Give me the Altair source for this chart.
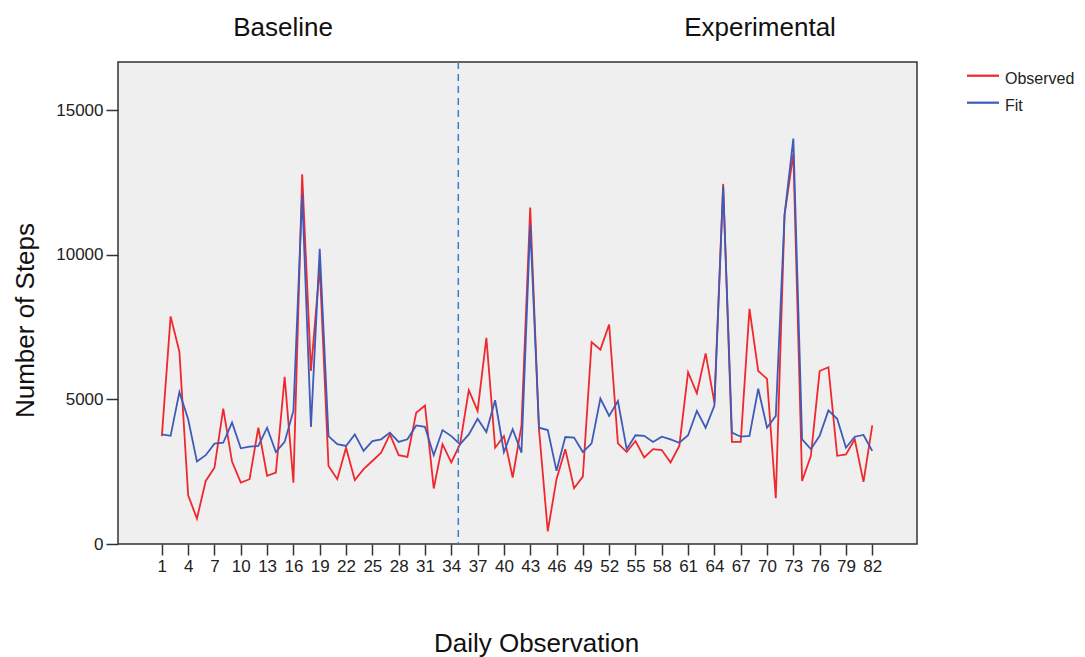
import altair as alt
import pandas as pd

# ---- data ----
observations = list(range(1, 83))

observed = [3730, 7870, 6650, 1680, 880, 2180, 2640, 4680, 2850, 2120,
            2240, 4020, 2360, 2470, 5780, 2120, 12780, 5980, 9600, 2700,
            2240, 3330, 2210, 2590, 2870, 3160, 3790, 3070, 3010, 4540,
            4790, 1920, 3450, 2820, 3450, 5320, 4600, 7130, 3330, 3730,
            2300, 4080, 11630, 3970, 440, 2240, 3280, 1930, 2330, 6980,
            6720, 7590, 3480, 3180, 3560, 2990, 3280, 3250, 2820, 3390,
            5940, 5210, 6590, 4890, 12450, 3530, 3530, 8130, 5980, 5710,
            1580, 11380, 13500, 2180, 3050, 5980, 6110, 3050, 3100, 3620,
            2150, 4100]

fit = [3790, 3740, 5250, 4310, 2850, 3070, 3470, 3500, 4200, 3310,
       3370, 3390, 4020, 3180, 3530, 4600, 12090, 4050, 10210, 3730,
       3450, 3390, 3790, 3220, 3560, 3620, 3850, 3530, 3620, 4100,
       4050, 3070, 3940, 3730, 3450, 3790, 4330, 3870, 4970, 3180,
       3970, 3160, 11030, 4020, 3940, 2530, 3700, 3680, 3180, 3480,
       5030, 4430, 4940, 3280, 3760, 3740, 3530, 3710, 3620, 3500,
       3760, 4600, 4020, 4790, 12360, 3850, 3710, 3740, 5370, 4020,
       4430, 11380, 14020, 3620, 3280, 3740, 4620, 4330, 3330, 3710,
       3770, 3220]

x_ticks = [1, 4, 7, 10, 13, 16, 19, 22, 25, 28, 31, 34, 37, 40,
           43, 46, 49, 52, 55, 58, 61, 64, 67, 70, 73, 76, 79, 82]
y_ticks = [0, 5000, 10000, 15000]

phase_labels = ["Baseline", "Experimental"]
phase_change = 34.8
series_names = ["Observed", "Fit"]

RED = "#F0282D"
BLUE = "#3E5BB8"
FONT = "Liberation Sans"
W, H = 799, 482

df = pd.DataFrame({"obs": observations, "observed": observed, "fit": fit})

x_scale = alt.Scale(domain=[-4, 87.1], nice=False, zero=False)
y_scale = alt.Scale(domain=[0, 16665], nice=False)

x_axis = alt.Axis(values=x_ticks, tickSize=11, labelPadding=3, labelFontSize=17,
                  labelFont=FONT, labelColor="#222222", tickColor="#333333",
                  tickWidth=1.5, domain=False, grid=False, labelFlush=False,
                  labelOverlap=False, labelSeparation=0, title="Daily Observation",
                  titleFont=FONT, titleFontSize=26, titleFontWeight="normal",
                  titleColor="#111111", titleX=418, titleY=107,
                  titleBaseline="alphabetic", titleAlign="center")
y_axis = alt.Axis(values=y_ticks, format="d", tickSize=12, labelPadding=3,
                  labelFontSize=17, labelFont=FONT, labelColor="#222222",
                  tickColor="#333333", tickWidth=1.5, domain=False, grid=False,
                  labelOverlap=False, title="Number of Steps", titleFont=FONT,
                  titleFontSize=26, titleFontWeight="normal", titleColor="#111111",
                  titleAngle=270, titleX=-93, titleY=258, titleBaseline="middle",
                  titleAlign="center")

base = alt.Chart(df)

obs_line = base.mark_line(color=RED, strokeWidth=1.8).encode(
    x=alt.X("obs:Q", scale=x_scale, axis=x_axis),
    y=alt.Y("observed:Q", scale=y_scale, axis=y_axis),
)
fit_line = base.mark_line(color=BLUE, strokeWidth=1.8).encode(
    x=alt.X("obs:Q", scale=x_scale, axis=x_axis),
    y=alt.Y("fit:Q", scale=y_scale, axis=y_axis),
)

phase_rule = alt.Chart(alt.Data(values=[{"x": phase_change}])).mark_rule(
    color="#3F7CC6", strokeWidth=1.5, strokeDash=[7, 5]
).encode(x=alt.X("x:Q", scale=x_scale, axis=x_axis), y=alt.value(0), y2=alt.value(H))

def label(text, px, py, size=26, align="center"):
    return alt.Chart(alt.Data(values=[{"t": text}])).mark_text(
        font=FONT, fontSize=size, align=align, baseline="alphabetic", color="#111111"
    ).encode(x=alt.value(px), y=alt.value(py), text="t:N")

base_lbl = label(phase_labels[0], 165, -26)
exp_lbl = label(phase_labels[1], 642, -26)

def legend_entry(name, color, py, ty):
    one = alt.Data(values=[{"t": name}])
    rule = alt.Chart(one).mark_rule(color=color, strokeWidth=2.2).encode(
        x=alt.value(849), x2=alt.value(881), y=alt.value(py))
    txt = alt.Chart(one).mark_text(font=FONT, fontSize=16, align="left",
                                   baseline="alphabetic", color="#222222").encode(
        x=alt.value(887), y=alt.value(ty), text="t:N")
    return rule + txt

leg1 = legend_entry(series_names[0], RED, 13.7, 22)
leg2 = legend_entry(series_names[1], BLUE, 40.7, 49)

chart = alt.layer(obs_line, fit_line, phase_rule, base_lbl, exp_lbl, leg1, leg2).properties(
    width=W, height=H,
    autosize=alt.AutoSizeParams(type="none"),
    padding={"left": 110, "top": 54, "right": 160, "bottom": 113},
).configure_view(
    fill="#EFEFEF", stroke="#333333", strokeWidth=1.5
).configure_axis(
    labelOverlap=False
)

chart.save("out.html", embed_options={"renderer": "svg", "actions": False})
